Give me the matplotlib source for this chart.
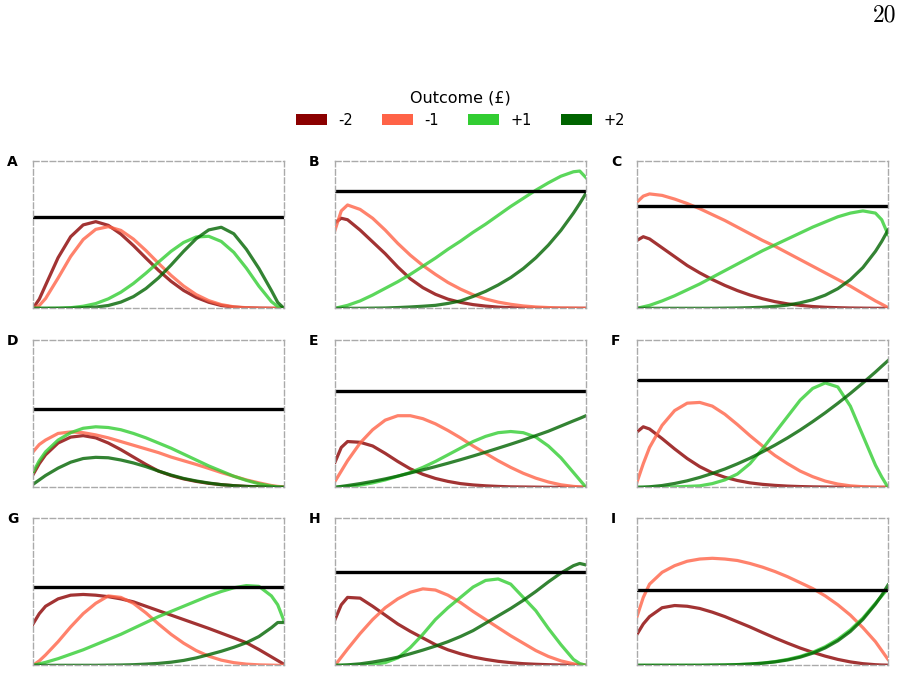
import numpy as np
import matplotlib
matplotlib.use("Agg")
import matplotlib.pyplot as plt
from matplotlib.patches import Patch

# shared x positions (fraction of the outcome range)
x = [0, 0.025, 0.05, 0.1, 0.15, 0.2, 0.25, 0.3, 0.35, 0.4, 0.45, 0.5,
     0.55, 0.6, 0.65, 0.7, 0.75, 0.8, 0.85, 0.9, 0.95, 0.975, 1.0]

panels = ["A", "B", "C", "D", "E", "F", "G", "H", "I"]
outcomes = ["-2", "-1", "+1", "+2"]
threshold = [0.62, 0.797, 0.693, 0.533, 0.65, 0.725, 0.533, 0.632, 0.508]

A_m2 = [0, 0.062, 0.156, 0.343, 0.485, 0.565, 0.587, 0.562, 0.503, 0.425, 0.340, 0.257, 0.183, 0.121, 0.074, 0.041, 0.019, 0.008, 0.003, 0.001, 0, 0, 0]
A_m1 = [0, 0.019, 0.066, 0.205, 0.351, 0.466, 0.535, 0.553, 0.528, 0.469, 0.391, 0.305, 0.223, 0.151, 0.093, 0.052, 0.025, 0.010, 0.004, 0.001, 0, 0, 0]
A_p1 = [0, 0, 0, 0.001, 0.004, 0.014, 0.032, 0.064, 0.109, 0.168, 0.238, 0.313, 0.386, 0.446, 0.483, 0.488, 0.453, 0.379, 0.272, 0.150, 0.045, 0.012, 0]
A_p2 = [0, 0, 0, 0, 0.001, 0.003, 0.008, 0.019, 0.042, 0.079, 0.134, 0.206, 0.293, 0.386, 0.471, 0.531, 0.549, 0.505, 0.40, 0.27, 0.12, 0.04, 0]

B_m2 = [0.58, 0.61, 0.60, 0.53, 0.45, 0.37, 0.28, 0.20, 0.14, 0.095, 0.062, 0.04, 0.025, 0.015, 0.008, 0.004, 0.002, 0.001, 0, 0, 0, 0, 0]
B_m1 = [0.53, 0.66, 0.70, 0.67, 0.61, 0.53, 0.44, 0.36, 0.29, 0.23, 0.175, 0.13, 0.092, 0.063, 0.042, 0.027, 0.016, 0.009, 0.005, 0.002, 0.001, 0, 0]
B_p1 = [0, 0.01, 0.02, 0.05, 0.09, 0.135, 0.18, 0.23, 0.285, 0.34, 0.40, 0.455, 0.515, 0.57, 0.63, 0.69, 0.745, 0.80, 0.85, 0.895, 0.925, 0.93, 0.885]
B_p2 = [0, 0, 0, 0, 0.001, 0.002, 0.005, 0.009, 0.014, 0.02, 0.033, 0.05, 0.08, 0.115, 0.158, 0.208, 0.269, 0.342, 0.428, 0.528, 0.645, 0.71, 0.78]

C_m2 = [0.46, 0.485, 0.47, 0.41, 0.35, 0.29, 0.24, 0.195, 0.155, 0.12, 0.09, 0.065, 0.045, 0.03, 0.02, 0.012, 0.007, 0.004, 0.002, 0.001, 0, 0, 0]
C_m1 = [0.72, 0.76, 0.775, 0.765, 0.74, 0.71, 0.675, 0.635, 0.595, 0.55, 0.505, 0.46, 0.42, 0.375, 0.33, 0.285, 0.24, 0.195, 0.15, 0.10, 0.05, 0.028, 0.005]
C_p1 = [0, 0.01, 0.02, 0.05, 0.085, 0.125, 0.165, 0.21, 0.255, 0.30, 0.345, 0.39, 0.43, 0.47, 0.51, 0.55, 0.585, 0.62, 0.645, 0.66, 0.645, 0.60, 0.50]
C_p2 = [0, 0, 0, 0, 0, 0, 0, 0, 0.001, 0.002, 0.004, 0.007, 0.013, 0.022, 0.037, 0.058, 0.089, 0.133, 0.194, 0.276, 0.386, 0.453, 0.53]

D_m2 = [0.085, 0.16, 0.22, 0.30, 0.34, 0.35, 0.335, 0.30, 0.255, 0.205, 0.155, 0.11, 0.08, 0.057, 0.04, 0.027, 0.018, 0.011, 0.006, 0.003, 0.001, 0, 0]
D_m1 = [0.24, 0.29, 0.32, 0.365, 0.375, 0.37, 0.355, 0.335, 0.31, 0.285, 0.26, 0.235, 0.205, 0.18, 0.155, 0.128, 0.10, 0.075, 0.05, 0.03, 0.012, 0.006, 0.003]
D_p1 = [0.10, 0.18, 0.24, 0.32, 0.37, 0.40, 0.41, 0.405, 0.39, 0.365, 0.335, 0.30, 0.265, 0.225, 0.185, 0.145, 0.11, 0.075, 0.047, 0.024, 0.008, 0.003, 0.001]
D_p2 = [0.02, 0.05, 0.08, 0.13, 0.17, 0.195, 0.203, 0.20, 0.185, 0.165, 0.14, 0.11, 0.083, 0.06, 0.043, 0.029, 0.018, 0.011, 0.006, 0.003, 0.001, 0, 0]

E_m2 = [0.17, 0.27, 0.31, 0.305, 0.28, 0.23, 0.175, 0.125, 0.088, 0.06, 0.04, 0.025, 0.016, 0.01, 0.006, 0.003, 0.002, 0.001, 0, 0, 0, 0, 0]
E_m1 = [0.04, 0.11, 0.18, 0.30, 0.39, 0.455, 0.485, 0.485, 0.465, 0.43, 0.385, 0.335, 0.28, 0.23, 0.18, 0.135, 0.095, 0.062, 0.036, 0.017, 0.006, 0.003, 0.001]
E_p1 = [0, 0.002, 0.005, 0.015, 0.03, 0.05, 0.075, 0.10, 0.135, 0.175, 0.22, 0.265, 0.31, 0.345, 0.37, 0.378, 0.37, 0.34, 0.28, 0.20, 0.10, 0.05, 0]
E_p2 = [0, 0.006, 0.012, 0.025, 0.04, 0.057, 0.076, 0.097, 0.118, 0.14, 0.163, 0.187, 0.212, 0.238, 0.265, 0.292, 0.32, 0.35, 0.38, 0.415, 0.45, 0.467, 0.485]

F_m2 = [0.375, 0.41, 0.395, 0.33, 0.26, 0.195, 0.14, 0.098, 0.068, 0.046, 0.03, 0.02, 0.013, 0.008, 0.005, 0.003, 0.002, 0.001, 0, 0, 0, 0, 0]
F_m1 = [0.035, 0.16, 0.27, 0.42, 0.52, 0.57, 0.575, 0.55, 0.495, 0.425, 0.35, 0.28, 0.215, 0.16, 0.11, 0.072, 0.042, 0.022, 0.01, 0.004, 0.001, 0, 0]
F_p1 = [0, 0, 0, 0.001, 0.003, 0.006, 0.01, 0.025, 0.05, 0.09, 0.16, 0.26, 0.37, 0.48, 0.59, 0.67, 0.707, 0.68, 0.55, 0.35, 0.15, 0.07, 0]
F_p2 = [0, 0.001, 0.0035, 0.012, 0.026, 0.044, 0.067, 0.094, 0.124, 0.159, 0.197, 0.24, 0.286, 0.335, 0.388, 0.445, 0.505, 0.569, 0.636, 0.707, 0.781, 0.82, 0.858]

G_m2 = [0.28, 0.35, 0.40, 0.45, 0.475, 0.48, 0.475, 0.465, 0.45, 0.43, 0.40, 0.37, 0.34, 0.31, 0.28, 0.25, 0.218, 0.186, 0.153, 0.107, 0.057, 0.032, 0.007]
G_m1 = [0, 0.03, 0.07, 0.16, 0.26, 0.35, 0.42, 0.47, 0.46, 0.42, 0.355, 0.28, 0.21, 0.15, 0.10, 0.062, 0.035, 0.018, 0.008, 0.003, 0.001, 0, 0]
G_p1 = [0, 0.01, 0.02, 0.045, 0.075, 0.105, 0.14, 0.175, 0.21, 0.25, 0.29, 0.33, 0.365, 0.40, 0.435, 0.47, 0.50, 0.525, 0.54, 0.535, 0.47, 0.41, 0.30]
G_p2 = [0, 0, 0, 0, 0, 0, 0, 0.001, 0.002, 0.004, 0.008, 0.013, 0.021, 0.033, 0.05, 0.072, 0.095, 0.122, 0.153, 0.195, 0.255, 0.29, 0.29]

H_m2 = [0.31, 0.41, 0.46, 0.455, 0.40, 0.34, 0.28, 0.23, 0.185, 0.14, 0.105, 0.078, 0.056, 0.04, 0.027, 0.018, 0.011, 0.007, 0.004, 0.002, 0.001, 0, 0]
H_m1 = [0, 0.055, 0.11, 0.215, 0.31, 0.39, 0.45, 0.495, 0.518, 0.51, 0.475, 0.425, 0.365, 0.31, 0.255, 0.20, 0.15, 0.10, 0.06, 0.03, 0.01, 0.004, 0]
H_p1 = [0, 0, 0, 0.001, 0.005, 0.018, 0.05, 0.12, 0.21, 0.31, 0.39, 0.46, 0.53, 0.575, 0.585, 0.55, 0.46, 0.37, 0.25, 0.14, 0.04, 0.012, 0]
H_p2 = [0, 0.001, 0.003, 0.01, 0.022, 0.037, 0.055, 0.078, 0.103, 0.13, 0.16, 0.195, 0.235, 0.285, 0.335, 0.385, 0.44, 0.50, 0.565, 0.625, 0.675, 0.69, 0.68]

I_m2 = [0.21, 0.28, 0.33, 0.39, 0.405, 0.40, 0.385, 0.36, 0.33, 0.295, 0.26, 0.222, 0.185, 0.15, 0.117, 0.088, 0.062, 0.04, 0.023, 0.011, 0.004, 0.002, 0.001]
I_m1 = [0.33, 0.46, 0.55, 0.63, 0.675, 0.705, 0.72, 0.725, 0.72, 0.71, 0.69, 0.665, 0.635, 0.60, 0.56, 0.52, 0.47, 0.41, 0.34, 0.255, 0.16, 0.10, 0.04]
I_p1 = [0, 0, 0, 0, 0, 0, 0, 0.001, 0.002, 0.005, 0.009, 0.015, 0.025, 0.04, 0.06, 0.088, 0.126, 0.176, 0.24, 0.32, 0.42, 0.47, 0.52]
I_p2 = [0, 0, 0, 0, 0, 0, 0, 0.001, 0.002, 0.004, 0.008, 0.014, 0.023, 0.036, 0.055, 0.082, 0.118, 0.166, 0.229, 0.311, 0.414, 0.475, 0.544]

series = {
    "A": [A_m2, A_m1, A_p1, A_p2], "B": [B_m2, B_m1, B_p1, B_p2],
    "C": [C_m2, C_m1, C_p1, C_p2], "D": [D_m2, D_m1, D_p1, D_p2],
    "E": [E_m2, E_m1, E_p1, E_p2], "F": [F_m2, F_m1, F_p1, F_p2],
    "G": [G_m2, G_m1, G_p1, G_p2], "H": [H_m2, H_m1, H_p1, H_p2],
    "I": [I_m2, I_m1, I_p1, I_p2],
}

colors = ["#8B0000", "#FF6347", "#32CD32", "#006400"]

W, H = 903, 673
fig = plt.figure(figsize=(W / 100, H / 100), dpi=100)

col_left = [33, 335, 637]
row_top = [160.7, 339.7, 517.7]
ax_w, ax_h = 251, 147.6

for i, p in enumerate(panels):
    r, c = divmod(i, 3)
    ax = fig.add_axes([col_left[c] / W, 1 - (row_top[r] + ax_h) / H, ax_w / W, ax_h / H])
    for vals, col in zip(series[p], colors):
        ax.plot(x, vals, color=col, lw=2.3, alpha=0.8, solid_joinstyle="round")
    ax.axhline(threshold[i], color="black", lw=2.4)
    ax.set_xlim(0, 1)
    ax.set_ylim(0, 1)
    ax.set_xticks([])
    ax.set_yticks([])
    for s in ax.spines.values():
        s.set_linestyle((0, (4, 2)))
        s.set_color("#aaaaaa")
        s.set_linewidth(1.0)
    ax.text(-26 / ax_w, 0.99, p, transform=ax.transAxes, fontsize=10,
            fontweight="bold", ha="left", va="center")

handles = [Patch(facecolor=c, edgecolor="none", label=l) for c, l in zip(colors, outcomes)]
fig.legend(handles=handles, loc="center", bbox_to_anchor=(460.5 / W, 1 - 109 / H),
           ncol=4, frameon=False, title="Outcome (£)", fontsize=10.5,
           title_fontsize=11.5, handlelength=2.1)

fig.text(896 / W, 1 - 15.5 / H, "20", family="cmr10", fontsize=17, ha="right", va="center")

fig.savefig("out.png", dpi=100)
